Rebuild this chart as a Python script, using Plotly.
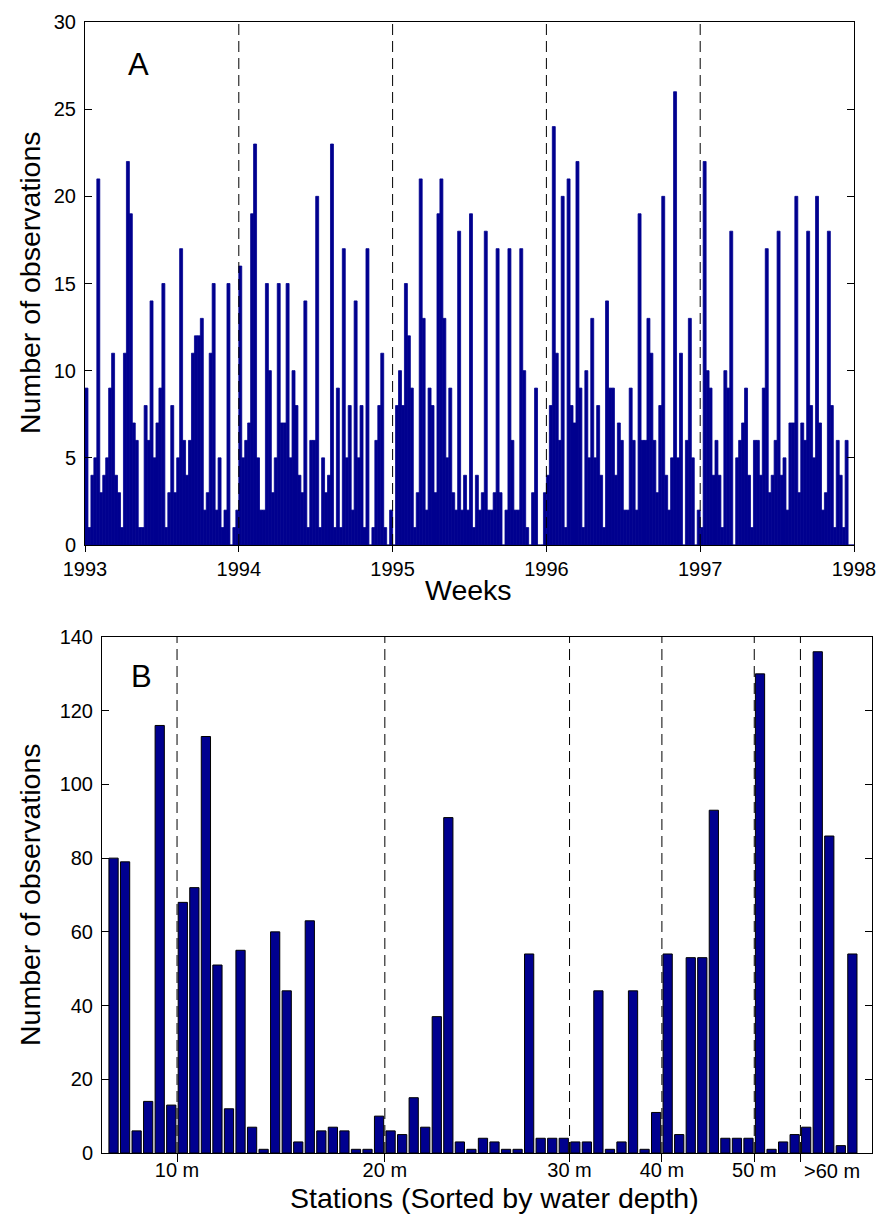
import plotly.graph_objects as go

# ---- Panel A: weekly number of observations (52 weekly bins per year) ----
weeks_1993 = [9, 1, 4, 5, 21, 3, 4, 5, 9, 11,
              4, 3, 1, 11, 22, 19, 7, 6, 1, 1,
              8, 6, 14, 5, 7, 9, 15, 1, 3, 8,
              3, 5, 17, 6, 4, 6, 11, 12, 12, 13,
              2, 3, 11, 15, 2, 5, 1, 2, 15, 0,
              1, 2]
weeks_1994 = [16, 5, 6, 7, 19, 23, 5, 2, 2, 15,
              10, 3, 5, 15, 7, 7, 15, 5, 10, 8,
              4, 3, 14, 1, 6, 6, 20, 1, 5, 3,
              4, 23, 1, 9, 1, 17, 5, 8, 2, 14,
              5, 8, 1, 17, 0, 1, 6, 8, 11, 1,
              0, 2]
weeks_1995 = [0, 8, 10, 8, 15, 12, 9, 1, 3, 21,
              13, 2, 9, 8, 3, 19, 21, 13, 5, 9,
              3, 2, 18, 2, 4, 2, 19, 1, 4, 2,
              3, 18, 2, 2, 3, 17, 3, 0, 2, 17,
              6, 2, 2, 17, 10, 1, 0, 3, 9, 0,
              0, 3]
weeks_1996 = [4, 8, 24, 11, 6, 20, 1, 21, 8, 7,
              22, 9, 1, 10, 5, 13, 5, 8, 4, 1,
              14, 9, 9, 4, 7, 6, 2, 2, 9, 6,
              2, 19, 6, 6, 13, 11, 6, 3, 8, 20,
              4, 2, 5, 26, 5, 11, 0, 6, 13, 5,
              0, 2]
weeks_1997 = [1, 22, 10, 9, 4, 6, 4, 1, 10, 9,
              18, 0, 5, 6, 7, 9, 4, 1, 6, 6,
              4, 9, 17, 3, 4, 6, 18, 4, 5, 2,
              7, 7, 20, 3, 7, 6, 18, 8, 5, 20,
              7, 2, 3, 18, 8, 1, 6, 4, 1, 6,
              0, 0]
years = [1993, 1994, 1995, 1996, 1997]
year_ticks = [1993, 1994, 1995, 1996, 1997, 1998]
year_marks = [1994, 1995, 1996, 1997]

# ---- Panel B: observations per station, stations sorted by water depth ----
station_counts = [80, 79, 6, 14, 116, 13, 68, 72, 113, 51,
                  12, 55, 7, 1, 60, 44, 3, 63, 6, 7,
                  6, 1, 1, 10, 6, 5, 15, 7, 37, 91,
                  3, 1, 4, 3, 1, 1, 54, 4, 4, 4,
                  3, 3, 44, 1, 3, 44, 1, 11, 54, 5,
                  53, 53, 93, 4, 4, 4, 130, 1, 3, 5,
                  7, 136, 86, 2, 54]
depth_bounds = [6.5, 24.5, 40.5, 48.5, 56.5, 60.5]
depth_labels = ["10 m", "20 m", "30 m", "40 m", "50 m", ">60 m"]
deep_label_pos = 63.2

NAVY = "#00008F"
FONT = "Liberation Sans, Arial, Helvetica, sans-serif"
W, H = 883, 1218

weekly = weeks_1993 + weeks_1994 + weeks_1995 + weeks_1996 + weeks_1997
week_x = []
for yr, vals in zip(years, [weeks_1993, weeks_1994, weeks_1995, weeks_1996, weeks_1997]):
    week_x += [yr + (k + 0.5) / len(vals) for k in range(len(vals))]
station_x = list(range(1, len(station_counts) + 1))


def px_x(p):
    return p / W


def px_y(p):
    return 1 - p / H


fig = go.Figure()
fig.add_trace(go.Bar(
    x=week_x, y=weekly, width=1 / 52, xaxis="x", yaxis="y",
    marker=dict(color=NAVY, line=dict(color=NAVY, width=0.8)),
    showlegend=False, hoverinfo="x+y"))
fig.add_trace(go.Bar(
    x=station_x, y=station_counts, width=0.8, xaxis="x2", yaxis="y2",
    marker=dict(color=NAVY, line=dict(color="black", width=1)),
    showlegend=False, hoverinfo="x+y"))

axis_common = dict(showline=True, linecolor="black", linewidth=1, automargin=False,
                   showgrid=False, zeroline=False, tickcolor="black",
                   tickwidth=1, tickfont=dict(family=FONT, size=20, color="black"))

fig.update_layout(
    width=W, height=H,
    margin=dict(l=0, r=0, t=0, b=0, autoexpand=False),
    paper_bgcolor="white", plot_bgcolor="white",
    font=dict(family=FONT, color="black"),
    xaxis=dict(domain=[px_x(85), px_x(854)], anchor="y", range=[1993, 1998],
               tickvals=year_ticks, ticktext=[str(t) for t in year_ticks],
               ticks="outside", ticklen=6, mirror=True, **axis_common),
    yaxis=dict(domain=[px_y(545), px_y(22)], anchor="x", range=[0, 30],
               tickvals=list(range(0, 31, 5)), ticks="inside", ticklen=7,
               mirror="ticks", ticklabelstandoff=4, **axis_common),
    xaxis2=dict(domain=[px_x(102), px_x(872)], anchor="y2", range=[0, 66.7],
                tickvals=depth_bounds, ticktext=depth_labels[:-1] + [""],
                ticks="outside", ticklen=8, ticklabelstandoff=-9, mirror=True,
                **axis_common),
    yaxis2=dict(domain=[px_y(1153), px_y(637)], anchor="x2", range=[0, 140],
                tickvals=list(range(0, 141, 20)), ticks="inside", ticklen=7,
                mirror="ticks", ticklabelstandoff=4, **axis_common),
)

dash = dict(color="black", width=1, dash="11px,6px")
for b in year_marks:
    fig.add_shape(type="line", x0=b, x1=b, y0=0, y1=1, xref="x", yref="y domain",
                  line=dash, layer="above")
for b in depth_bounds:
    fig.add_shape(type="line", x0=b, x1=b, y0=0, y1=1, xref="x2", yref="y2 domain",
                  line=dash, layer="above")


def label(text, x, y, size, angle=0, xref="paper"):
    fig.add_annotation(text=text, x=x, y=y, xref=xref, yref="paper",
                       xanchor="center", yanchor="middle", textangle=angle,
                       showarrow=False, font=dict(family=FONT, size=size, color="black"))


label("A", px_x(138), px_y(64), 31)
label("B", px_x(141), px_y(676), 31)
label("Number of observations", px_x(30), px_y(283), 28.5, angle=-90)
label("Number of observations", px_x(30), px_y(895), 28.5, angle=-90)
label("Weeks", px_x(469), px_y(590), 28.5)
label("Stations (Sorted by water depth)", px_x(494), px_y(1198), 28.5)
label(depth_labels[-1], deep_label_pos, px_y(1171), 20, xref="x2")

fig.write_html("out.html")
